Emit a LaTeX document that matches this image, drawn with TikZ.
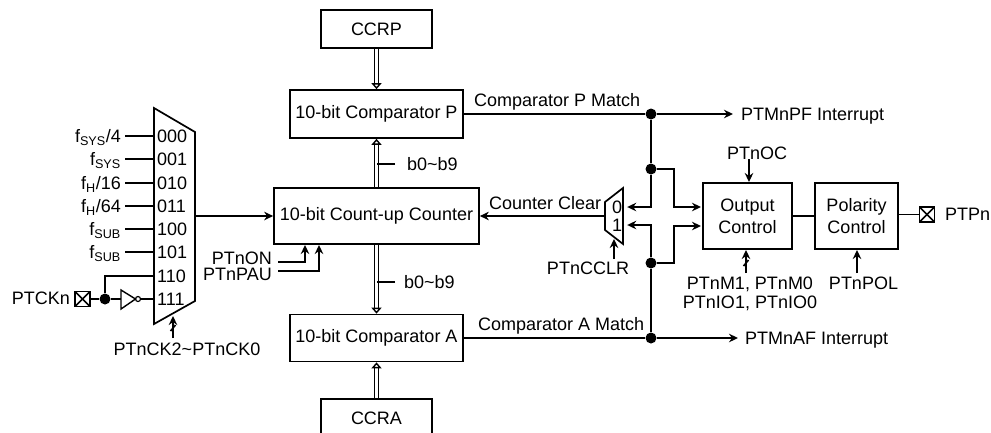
\documentclass[tikz,border=0pt]{standalone}
\usepackage{fontspec}
\setmainfont{Liberation Sans}
\usetikzlibrary{
  arrows.meta,
  positioning
}
\newcommand{\sigsize}{\fontsize{18}{22}\selectfont}
\tikzset{
  % Block: fixed size, centred text
  blk/.style={
    rectangle, draw=black, line width=1.7pt,
    minimum width=#1, inner sep=0pt,
    align=center, font=\sigsize
  },
  % Plain label, same height whatever the letters
  txt/.style={
    inner ysep=0pt, inner xsep=0pt,
    text height=13pt, text depth=0pt, font=\sigsize
  },
  % Junction dot
  dot/.style={circle, fill=black, minimum size=11pt, inner sep=0pt},
  % Pin: box with a cross
  pad/.style={
    rectangle, draw=black, line width=1.8pt,
    minimum size=15pt, inner sep=0pt,
    path picture={
      \draw[line width=1.6pt] (path picture bounding box.south west) -- (path picture bounding box.north east);
      \draw[line width=1.6pt] (path picture bounding box.north west) -- (path picture bounding box.south east);
    }
  },
  % Wire
  wire/.style={line width=1.6pt},
  % Arrow
  arr/.style={
    -{Stealth[length=9pt,width=8.5pt]},
    line width=1.6pt
  },
  % Bus arrow
  bus/.style={
    double, double distance=2.6pt, line width=1.4pt,
    -{Triangle[open,fill=white,length=6pt,width=10pt,line width=1.4pt]}
  }
}
\begin{document}
\begin{tikzpicture}[x=1pt,y=-1pt]
  \path[use as bounding box, clip] (0,0) rectangle (991,432);
  % Main blocks
  \node[blk=111pt, minimum height=38pt] (ccrp) at (376.5,29) {CCRP};
  \node[blk=173pt, minimum height=48pt] (cmpP) at (376.5,114) {10-bit Comparator P};
  \node[blk=205pt, minimum height=56pt] (cnt) at (376.5,216) {10-bit Count-up Counter};
  \node[blk=173pt, minimum height=47pt] (cmpA) at (376.5,338) {10-bit Comparator A};
  \node[blk=111pt, minimum height=38pt] (ccra) at (376.5,418) {CCRA};
  \node[blk=89pt, minimum height=66pt] (outCtl) at (747.5,216) {Output\\Control};
  \node[blk=83pt, minimum height=66pt] (polCtl) at (856.5,216) {Polarity\\Control};
  \node[pad] (padOut) at (927,214.5) {};
  \node[pad] (padIn) at (82.5,299) {};

  % Clock selector
  \draw[line width=1.7pt] (154,108) -- (195,132) -- (195,301) -- (154,324) -- cycle;
  \node[txt, anchor=west, inner xsep=3pt] (selA) at (154,136) {000};
  \node[txt, anchor=west, inner xsep=3pt] (selB) at (154,159) {001};
  \node[txt, anchor=west, inner xsep=3pt] (selC) at (154,183) {010};
  \node[txt, anchor=west, inner xsep=3pt] (selD) at (154,206) {011};
  \node[txt, anchor=west, inner xsep=3pt] (selE) at (154,229) {100};
  \node[txt, anchor=west, inner xsep=3pt] (selF) at (154,252) {101};
  \node[txt, anchor=west, inner xsep=3pt] (selG) at (154,276) {110};
  \node[txt, anchor=west, inner xsep=3pt] (selH) at (154,299) {111};
  \node[txt, anchor=east, inner xsep=4pt] (clkA) at (125,136) {f\textsubscript{SYS}/4};
  \node[txt, anchor=east, inner xsep=4pt] (clkB) at (125,159) {f\textsubscript{SYS}};
  \node[txt, anchor=east, inner xsep=4pt] (clkC) at (125,183) {f\textsubscript{H}/16};
  \node[txt, anchor=east, inner xsep=4pt] (clkD) at (125,206) {f\textsubscript{H}/64};
  \node[txt, anchor=east, inner xsep=4pt] (clkE) at (125,229) {f\textsubscript{SUB}};
  \node[txt, anchor=east, inner xsep=4pt] (clkF) at (125,252) {f\textsubscript{SUB}};
  \draw[wire] (clkA) -- (selA);
  \draw[wire] (clkB) -- (selB);
  \draw[wire] (clkC) -- (selC);
  \draw[wire] (clkD) -- (selD);
  \draw[wire] (clkE) -- (selE);
  \draw[wire] (clkF) -- (selF);
  \node[txt, anchor=east] (ptck) at (70,298) {PTCKn};
  \node[dot] (dotIn) at (105,299) {};
  \coordinate (invIn) at (121,299);
  \node[circle, draw=black, line width=1.2pt, minimum size=5pt, inner sep=0pt] (invOut) at (138,299) {};
  \draw[line width=1.4pt] (121,290) -- (135.5,299) -- (121,309) -- cycle;
  \draw[wire] (padIn) -- (dotIn) -- (invIn);
  \draw[wire] (invOut) -- (selH);
  \draw[wire] (dotIn) |- (selG);
  \coordinate (muxOut) at (195,216);
  \draw[arr] (muxOut) -- (cnt);
  \node[txt] (ckSel) at (187,349) {PTnCK2\textasciitilde PTnCK0};
  \coordinate (ckTip) at (173,316);
  \coordinate (ckEnd) at (173,338);
  \draw[arr] (ckEnd) -- (ckTip);
  \draw[wire] (170.5,331) -- (175.5,325);

  % Counter enables
  \node[txt, anchor=east, inner xsep=6pt] (ptnOn) at (278,258) {PTnON};
  \node[txt, anchor=east, inner xsep=6pt] (ptnPau) at (278,274) {PTnPAU};
  \coordinate (onStart) at (278,262);
  \coordinate (pauStart) at (278,271);
  \coordinate (onTip) at (305,245);
  \coordinate (pauTip) at (319,245);
  \draw[arr] (onStart) -| (onTip);
  \draw[arr] (pauStart) -| (pauTip);

  % Buses
  \draw[bus] (ccrp) -- (cmpP);
  \draw[bus] (cnt) -- (cmpP);
  \draw[bus] (cnt) -- (cmpA);
  \draw[bus] (ccra) -- (cmpA);
  \node[txt, anchor=west, inner xsep=0pt] (busP) at (407,164) {b0\textasciitilde b9};
  \node[txt, anchor=west, inner xsep=0pt] (busA) at (404,282) {b0\textasciitilde b9};
  \coordinate (tickP) at (395,164);
  \coordinate (tickA) at (395,282);
  \draw[wire] (tickP) -- (cmpP.south |- tickP);
  \draw[wire] (tickA) -- (cmpA.north |- tickA);

  % Match lines
  \node[dot] (dotP) at (651,114) {};
  \node[dot] (dotPb) at (651,169) {};
  \node[dot] (dotAb) at (651,263) {};
  \node[dot] (dotA) at (651,338) {};
  \node[txt, anchor=west] (matchP) at (474,100) {Comparator P Match};
  \node[txt, anchor=west] (matchA) at (478,324) {Comparator A Match};
  \node[txt, anchor=west, inner xsep=8pt] (intP) at (733,114) {PTMnPF Interrupt};
  \node[txt, anchor=west, inner xsep=7pt] (intA) at (738,338) {PTMnAF Interrupt};
  \draw[wire] (cmpP) -- (dotP);
  \draw[wire] (cmpA) -- (dotA);
  \draw[arr] (dotP) -- (intP);
  \draw[arr] (dotA) -- (intA);
  \draw[wire] (dotP) -- (dotPb);
  \draw[wire] (dotA) -- (dotAb);

  % Clear selector
  \draw[line width=1.7pt] (605,202) -- (623,188) -- (623,244) -- (605,230) -- cycle;
  \node[txt, inner xsep=5pt] (selZero) at (617,207) {0};
  \node[txt, inner xsep=5pt] (selOne) at (617,225) {1};
  \coordinate (clrOut) at (605,216);
  \draw[arr] (clrOut) -- (cnt);
  \node[txt, anchor=west] (clrLbl) at (489,203) {Counter Clear};
  \node[txt] (cclr) at (588,268) {PTnCCLR};
  \coordinate (cclrEnd) at (614,259);
  \coordinate (cclrTip) at (614,239);
  \draw[arr] (cclrEnd) -- (cclrTip);
  \draw[arr] (dotPb) |- (selZero.east);
  \draw[arr] (dotAb) |- (selOne.east);
  \coordinate (bendP) at (674,207);
  \coordinate (bendA) at (674,226);
  \coordinate (outP) at (701,207);
  \coordinate (outA) at (701,226);
  \draw[arr] (dotPb) -| (bendP) -- (outP);
  \draw[arr] (dotAb) -| (bendA) -- (outA);

  % Output stage
  \draw[wire] (outCtl) -- (polCtl);
  \draw[wire] (polCtl.east |- padOut) -- (padOut);
  \node[txt, anchor=west] (ptp) at (945,214) {PTPn};
  \node[txt] (ptnOc) at (757,153) {PTnOC};
  \coordinate (ocEnd) at (749,159);
  \coordinate (ocTip) at (749,182);
  \draw[arr] (ocEnd) -- (ocTip);
  \node[txt] (modeA) at (750,283) {PTnM1, PTnM0};
  \node[txt] (modeB) at (750,302) {PTnIO1, PTnIO0};
  \coordinate (modeEnd) at (746,273);
  \coordinate (modeTip) at (746,250);
  \draw[arr] (modeEnd) -- (modeTip);
  \draw[wire] (743.5,266) -- (748.5,260);
  \node[txt] (pol) at (863.5,283) {PTnPOL};
  \coordinate (polEnd) at (857,273);
  \coordinate (polTip) at (857,250);
  \draw[arr] (polEnd) -- (polTip);
\end{tikzpicture}
\end{document}
